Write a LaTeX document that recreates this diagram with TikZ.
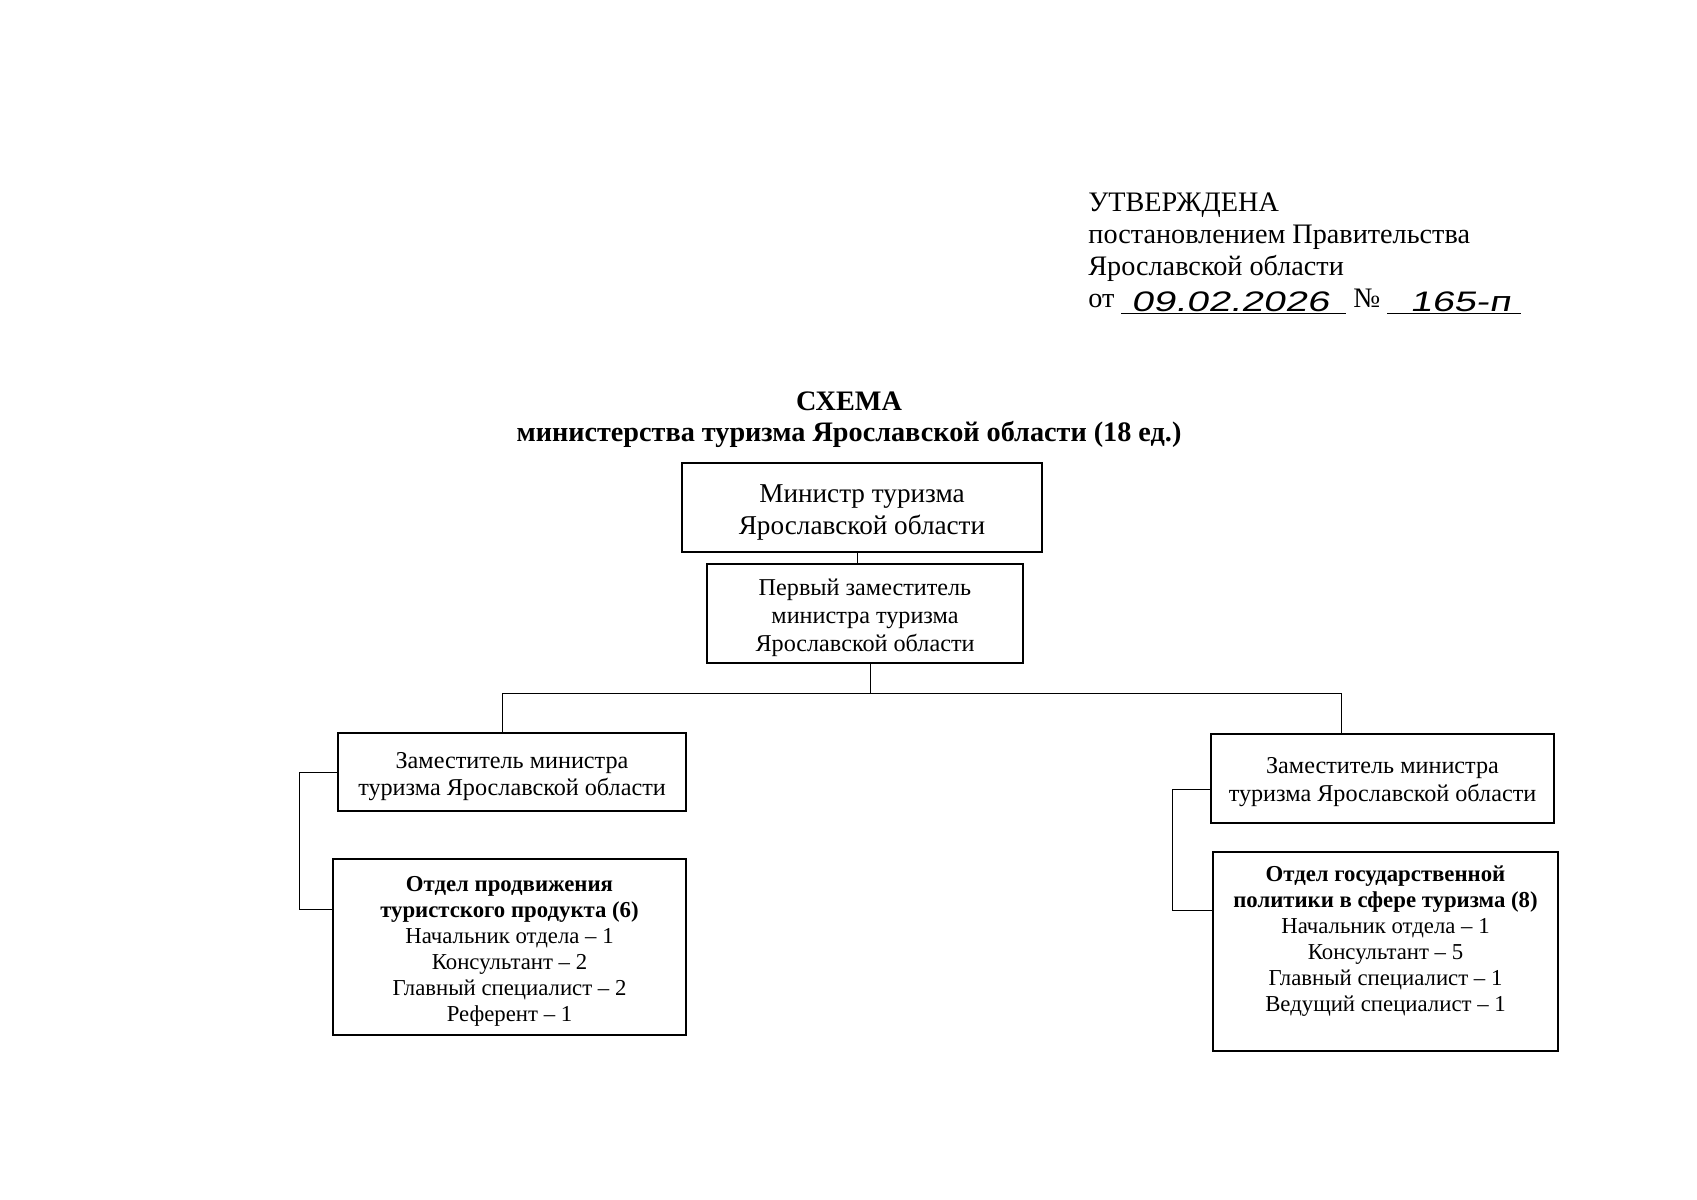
\documentclass[tikz,border=0pt]{standalone}
\usepackage{fontspec}
\setmainfont{Liberation Serif}
\newfontfamily\hand[FakeSlant=0.2,FakeStretch=1.4]{Liberation Sans}
\newlength\px
\setlength\px{0.4961pt}
\begin{document}
\begin{tikzpicture}[x=0.4961pt,y=-0.4961pt,
  box/.style={draw, line width=0.85pt, inner sep=0pt},
  conn/.style={line width=0.45pt},
  txt/.style={align=center, inner sep=0pt},
  head/.style={anchor=base west, inner sep=0pt, font=\fontsize{14}{16}\selectfont},
  handw/.style={anchor=base, inner sep=0pt, font=\hand\fontsize{14}{16}\selectfont},
  fmin/.style={font=\fontsize{13.5}{15.5}\selectfont},
  fdep/.style={font=\fontsize{12}{13.8}\selectfont},
  fdept/.style={font=\fontsize{11.3}{12.9}\selectfont}]
\useasboundingbox[fill=white] (0,0) rectangle (1697,1200);

% header
\node[head] (h1) at (1088,211) {УТВЕРЖДЕНА};
\node[head] (h2) at (1088,243) {постановлением Правительства};
\node[head] (h3) at (1088,275) {Ярославской области};
\node[head] (h4) at (1088,307) {от};
\coordinate (u1a) at (1121,313);
\coordinate (u1b) at (1346,313);
\draw[conn] (u1a) -- (u1b);
\node[handw] (d1) at (1230,311) {09.02.2026};
\node[head] (h5) at (1353,307) {№};
\coordinate (u2a) at (1387,313);
\coordinate (u2b) at (1521,313);
\draw[conn] (u2a) -- (u2b);
\node[handw] (d2) at (1460,311) {165-п};

% title
\node[anchor=base, inner sep=0pt, font=\bfseries\fontsize{14}{16}\selectfont] (t1) at (849,410) {СХЕМА};
\node[anchor=base, inner sep=0pt, font=\bfseries\fontsize{14}{16}\selectfont] (t2) at (849,441) {министерства туризма Ярославской области (18 ед.)};

% boxes
\node[box, minimum width=360\px, minimum height=89\px] (min) at (862,507.5) {};
\node[txt, fmin] (mint) at (862,512.5) {Министр туризма\\Ярославской области};
\node[box, minimum width=316\px, minimum height=99\px] (dep1) at (865,613.5) {};
\node[txt, fdep] (dep1t) at (865,618) {Первый заместитель\\министра туризма\\Ярославской области};
\node[box, minimum width=348\px, minimum height=78\px] (ldep) at (512,772) {};
\node[txt, fdep] (ldept0) at (512,776.5) {Заместитель министра\\туризма Ярославской области};
\node[box, minimum width=343\px, minimum height=89\px] (rdep) at (1382.5,778.5) {};
\node[txt, fdep] (rdept0) at (1382.5,782) {Заместитель министра\\туризма Ярославской области};
\node[box, minimum width=353\px, minimum height=176\px] (ldept) at (509.5,947) {};
\node[txt, fdept] (ldeptt) at (509.5,951.5) {\textbf{Отдел продвижения}\\\textbf{туристского продукта (6)}\\Начальник отдела – 1\\Консультант – 2\\Главный специалист – 2\\Референт – 1};
\node[box, minimum width=345\px, minimum height=199\px] (rdept) at (1385.5,951.5) {};
\node[txt, fdept, anchor=north] (rdeptt) at (1385.5,865) {\textbf{Отдел государственной}\\\textbf{политики в сфере туризма (8)}\\Начальник отдела – 1\\Консультант – 5\\Главный специалист – 1\\Ведущий специалист – 1};

% connectors
\coordinate (c1) at (857,552);
\draw[conn] (c1) -- (c1 |- dep1.north);
\coordinate (bus) at (870,693);
\coordinate (busl) at (502,693);
\coordinate (busr) at (1341,693);
\draw[conn] (bus |- dep1.south) -- (bus);
\draw[conn] (busl |- ldep.north) -- (busl) -- (busr) -- (busr |- rdep.north);

\coordinate (lbt) at (299,772);
\coordinate (lbb) at (299,909);
\draw[conn] (lbt -| ldep.west) -- (lbt) -- (lbb) -- (lbb -| ldept.west);
\coordinate (rbt) at (1172,789);
\coordinate (rbb) at (1172,910);
\draw[conn] (rbt -| rdep.west) -- (rbt) -- (rbb) -- (rbb -| rdept.west);
\end{tikzpicture}
\end{document}
